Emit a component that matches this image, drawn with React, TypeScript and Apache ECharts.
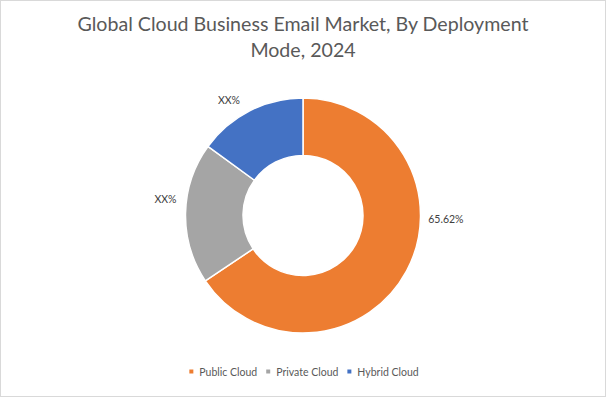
import React, { useEffect, useRef } from "react";
import * as echarts from "echarts";

const TITLE = "Global Cloud Business Email Market, By Deployment\nMode, 2024";
const categories = ["Public Cloud", "Private Cloud", "Hybrid Cloud"];
const shares = [65.62, 19.38, 15.0];
const labelTexts = ["65.62%", "XX%", "XX%"];
const colors = ["#ED7D31", "#A5A5A5", "#4472C4"];

export default function App() {
  const ref = useRef<HTMLDivElement>(null);
  useEffect(() => {
    document.body.style.margin = "0";
    const chart = echarts.init(ref.current!, null, { renderer: "svg" });
    chart.setOption({
      animation: false,
      backgroundColor: "#ffffff",
      title: {
        text: TITLE,
        left: "center",
        top: 4,
        textStyle: {
          fontFamily: "Lato",
          fontSize: 19.6,
          fontWeight: "normal",
          color: "#595959",
          lineHeight: 26.5,
          align: "center",
        },
      },
      legend: {
        data: categories,
        bottom: 14,
        left: "center",
        icon: "rect",
        itemWidth: 6,
        itemHeight: 6,
        itemGap: 7,
        textStyle: { fontFamily: "Lato", fontSize: 10.5, color: "#595959" },
      },
      series: [
        {
          type: "pie",
          center: [302, 214.5],
          radius: [60, 117.5],
          startAngle: 90,
          clockwise: true,
          avoidLabelOverlap: false,
          itemStyle: { borderColor: "#ffffff", borderWidth: 1.5 },
          label: {
            show: true,
            position: "outside",
            fontFamily: "Lato",
            fontSize: 10.5,
            color: "#404040",
            formatter: (p: any) => labelTexts[p.dataIndex],
          },
          labelLine: { show: false, length: 8, length2: 4 },
          labelLayout: (p: any) => {
            if (p.dataIndex === 0) {
              return {
                x: p.rect.x + p.rect.width + 7,
                y: p.rect.y + p.rect.height / 2 + 3,
                align: "left",
                verticalAlign: "middle",
              };
            }
            if (p.dataIndex === 1) return { dx: 8, dy: -14 };
            return { dx: 3, dy: -4 };
          },
          data: categories.map((name, i) => ({
            name,
            value: shares[i],
            itemStyle: { color: colors[i] },
          })),
        },
      ],
    });
    return () => chart.dispose();
  }, []);
  return (
    <div
      ref={ref}
      style={{
        position: "fixed",
        left: 0,
        top: 0,
        width: 606,
        height: 397,
        boxSizing: "border-box",
        border: "1px solid #d9d9d9",
      }}
    />
  );
}
